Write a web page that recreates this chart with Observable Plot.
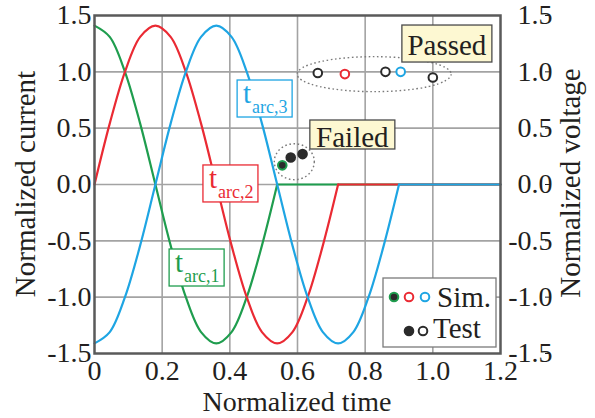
<!DOCTYPE html>
<html><head><meta charset="utf-8">
<script src="https://cdn.jsdelivr.net/npm/d3@7"></script>
<script src="https://cdn.jsdelivr.net/npm/@observablehq/plot@0.6"></script>
<style>
html,body{margin:0;padding:0;background:#fff;}
#chart{position:relative;width:595px;height:418px;}
svg text{font-family:"Liberation Serif","Times New Roman",serif;}
</style></head><body><div id="chart"></div>
<script>
// ---- data ----
const sampleTimes = [0,0.045,0.09,0.135,0.18,0.225,0.27,0.315,0.36,0.405,0.45,0.495,0.54,0.585,0.63,0.675,0.72,0.765,0.81,0.855,0.9];
const arc1Current = [1.41,1.31,1.0,0.54,0,-0.54,-1.0,-1.31,-1.41,-1.31,-1.0,-0.54,0];
const arc2Current = [0,0.54,1.0,1.31,1.41,1.31,1.0,0.54,0,-0.54,-1.0,-1.31,-1.41,-1.31,-1.0,-0.54,0];
const arc3Current = [-1.41,-1.31,-1.0,-0.54,0,0.54,1.0,1.31,1.41,1.31,1.0,0.54,0,-0.54,-1.0,-1.31,-1.41,-1.31,-1.0,-0.54,0];
const seriesNames = ["arc1","arc2","arc3"];
const seriesColors = ["#1f9d4e","#ea2a33","#1ea5e3"];
const arcEndTime = [0.54, 0.72, 0.9];   // current stays at 0 afterwards
const timeEnd = 1.2;

const simTime = [0.555, 0.74, 0.905];
const simVoltage = [0.17, 0.98, 1.0];
const simSeries = ["arc1","arc2","arc3"];
const simResult = ["Failed","Passed","Passed"];

const testTime = [0.58, 0.615, 0.66, 0.86, 1.0];
const testVoltage = [0.24, 0.27, 0.99, 1.0, 0.95];
const testResult = ["Failed","Failed","Passed","Passed","Passed"];

const xTicks = [0,0.2,0.4,0.6,0.8,1.0,1.2];
const yTicks = [-1.5,-1.0,-0.5,0,0.5,1.0,1.5];

// annotation anchors (data coordinates)
const groupNames = ["Passed","Failed"];
const groupCenterT = [0.828, 0.592];
const groupCenterV = [0.975, 0.198];
const groupBoxT = [0.910, 0.638];
const groupBoxV = [1.411, 0.568];
const arcLabelSub = ["arc,1","arc,2","arc,3"];
const arcLabelT = [0.222, 0.322, 0.423];
const arcLabelV = [-0.577, 0.169, 0.923];

// ---- build tables ----
const currents = [arc1Current, arc2Current, arc3Current];
const waves = [];
currents.forEach((vals, i) => vals.forEach((v, j) => waves.push({t: sampleTimes[j], v, series: seriesNames[i]})));
const tails = [];
arcEndTime.forEach((t0, i) => { tails.push({t: t0, v: 0, series: seriesNames[i]}); tails.push({t: timeEnd, v: 0, series: seriesNames[i]}); });
const sims = simTime.map((t, i) => ({t, v: simVoltage[i], series: simSeries[i], result: simResult[i]}));
const tests = testTime.map((t, i) => ({t, v: testVoltage[i], result: testResult[i]}));
const colorOf = s => seriesColors[seriesNames.indexOf(s)];

const fmtY = d => d.toFixed(1);
const fmtX = d => d === 0 ? "0" : d.toFixed(1);

const chart = Plot.plot({
  width: 595, height: 418,
  marginLeft: 94, marginRight: 95, marginTop: 15, marginBottom: 65,
  x: {domain: [0, 1.2]},
  y: {domain: [-1.5, 1.5]},
  style: {fontFamily: "Liberation Serif", fontSize: "28px", color: "#231f20", background: "white"},
  marks: [
    Plot.gridX([0.2,0.4,0.6,0.8,1.0], {stroke: "#a3a3a3", strokeOpacity: 1, strokeWidth: 1.6}),
    Plot.gridY([-1,-0.5,0,0.5,1], {stroke: "#a3a3a3", strokeOpacity: 1, strokeWidth: 1.6}),
    Plot.line(tails, {x: "t", y: "v", z: "series", stroke: d => colorOf(d.series), strokeWidth: 2.2}),
    Plot.line(waves, {x: "t", y: "v", z: "series", stroke: d => colorOf(d.series), strokeWidth: 2.2, curve: "catmull-rom"}),
    Plot.dot(tests, {x: "t", y: "v", r: 4.3, stroke: "#2b2b2b", strokeWidth: 2, fill: d => d.result === "Failed" ? "#2b2b2b" : "white"}),
    Plot.dot(sims, {x: "t", y: "v", r: 4.3, stroke: d => colorOf(d.series), strokeWidth: 2, fill: d => d.result === "Failed" ? "#2b2b2b" : "white"}),
    Plot.axisX({ticks: xTicks, tickSize: 0, tickPadding: 7, tickFormat: fmtX, label: null}),
    Plot.axisY({ticks: yTicks, tickSize: 0, tickPadding: 3, tickFormat: fmtY, label: null}),
    Plot.axisY({anchor: "right", ticks: yTicks, tickSize: 5, tickPadding: 3, textAnchor: "end", dx: 44, tickFormat: fmtY, label: null}),
    Plot.frame({stroke: "#5a5a5a", strokeWidth: 2.5})
  ]
});
document.getElementById("chart").appendChild(chart);

const sx = chart.scale("x"), sy = chart.scale("y");
const svg = d3.select(chart);
const font = "Liberation Serif, Times New Roman, serif";

// dotted ellipses around the marker groups
const ellRx = [77, 20], ellRy = [17.5, 18];
groupNames.forEach((g, i) => {
  svg.append("ellipse")
    .attr("cx", sx.apply(groupCenterT[i])).attr("cy", sy.apply(groupCenterV[i]))
    .attr("rx", ellRx[i]).attr("ry", ellRy[i])
    .attr("fill", "none").attr("stroke", "#7a7a7a").attr("stroke-width", 1.4)
    .attr("stroke-dasharray", "1.6,2.6");
});

// Passed / Failed labels
const boxW = [90, 85], boxH = [37, 29], baseOff = [30, 27];
groupNames.forEach((g, i) => {
  const x0 = sx.apply(groupBoxT[i]), y0 = sy.apply(groupBoxV[i]);
  svg.append("rect").attr("x", x0).attr("y", y0).attr("width", boxW[i]).attr("height", boxH[i])
    .attr("fill", "#fdf8d2").attr("stroke", "#4a4a4a").attr("stroke-width", 1.3);
  svg.append("text").attr("x", x0 + boxW[i] / 2).attr("y", y0 + baseOff[i])
    .attr("text-anchor", "middle").attr("font-family", font).attr("font-size", 29)
    .attr("fill", "#231f20").text(g);
});

// t_arc labels
arcLabelSub.forEach((s, i) => {
  const x0 = sx.apply(arcLabelT[i]), y0 = sy.apply(arcLabelV[i]);
  const c = seriesColors[i];
  svg.append("rect").attr("x", x0).attr("y", y0).attr("width", 55).attr("height", 37)
    .attr("fill", "white").attr("stroke", c).attr("stroke-width", 1.3);
  svg.append("text").attr("x", x0 + 6).attr("y", y0 + 23).attr("text-anchor", "start")
    .attr("font-family", font).attr("font-size", 29).attr("fill", c).text("t");
  svg.append("text").attr("x", x0 + 15).attr("y", y0 + 33).attr("text-anchor", "start")
    .attr("font-family", font).attr("font-size", 18).attr("fill", c).text(s);
});

// axis titles
svg.append("text").attr("x", 297).attr("y", 411).attr("text-anchor", "middle")
  .attr("font-family", font).attr("font-size", 28).attr("fill", "#231f20").text("Normalized time");
svg.append("text").attr("transform", "translate(35,184) rotate(-90)").attr("text-anchor", "middle")
  .attr("font-family", font).attr("font-size", 29).attr("fill", "#231f20").text("Normalized current");
svg.append("text").attr("transform", "translate(580,183) rotate(-90)").attr("text-anchor", "middle")
  .attr("font-family", font).attr("font-size", 29).attr("fill", "#231f20").text("Normalized voltage");

// legend
const lg = svg.append("g").attr("transform", "translate(383,278)");
lg.append("rect").attr("width", 113).attr("height", 69).attr("fill", "white")
  .attr("stroke", "#7a7a7a").attr("stroke-width", 1.3);
const legSim = [{x: 11, s: "#1f9d4e", f: "#2b2b2b"}, {x: 26, s: "#ea2a33", f: "white"}, {x: 42, s: "#1ea5e3", f: "white"}];
legSim.forEach(m => lg.append("circle").attr("cx", m.x).attr("cy", 19).attr("r", 4.3)
  .attr("stroke", m.s).attr("stroke-width", 2).attr("fill", m.f));
lg.append("text").attr("x", 54).attr("y", 29).attr("text-anchor", "start").attr("font-family", font).attr("font-size", 29).attr("fill", "#231f20").text("Sim.");
const legTest = [{x: 26, f: "#2b2b2b"}, {x: 40, f: "white"}];
legTest.forEach(m => lg.append("circle").attr("cx", m.x).attr("cy", 53).attr("r", 4.3)
  .attr("stroke", "#2b2b2b").attr("stroke-width", 2).attr("fill", m.f));
lg.append("text").attr("x", 50).attr("y", 60).attr("text-anchor", "start").attr("font-family", font).attr("font-size", 29).attr("fill", "#231f20").text("Test");
</script></body></html>
